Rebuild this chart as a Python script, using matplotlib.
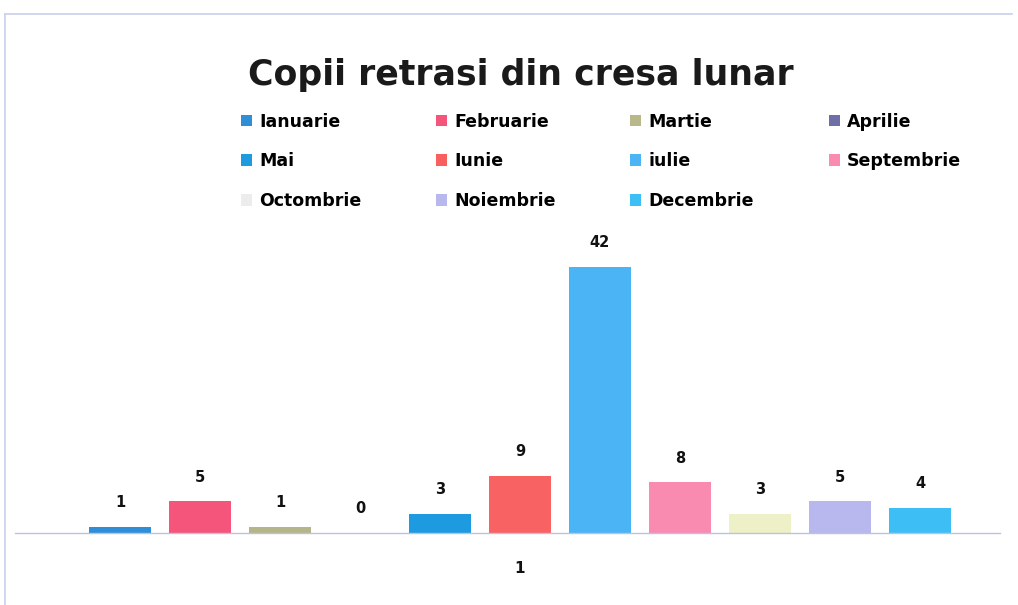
import matplotlib
matplotlib.use("Agg")
import matplotlib.pyplot as plt
from matplotlib.patches import Patch

title = "Copii retrasi din cresa lunar"
months = ["Ianuarie", "Februarie", "Martie", "Aprilie", "Mai", "Iunie",
          "iulie", "Septembrie", "Octombrie", "Noiembrie", "Decembrie"]
values = [1, 5, 1, 0, 3, 9, 42, 8, 3, 5, 4]
category = ["1"]
bar_colors = ["#2E8FD8", "#F5557A", "#B5B58A", "#6F6FA8", "#1E9BE0", "#F86262",
              "#4BB4F5", "#F98BB0", "#EEF0C8", "#B8B8EE", "#3DBEF5"]
legend_colors = ["#2E8FD8", "#F5557A", "#B8B88A", "#6F6FA8", "#1E9BE0", "#F86060",
                 "#4BB4F5", "#F98BB0", "#ECECEC", "#B8B8EE", "#3DBEF5"]

W, H = 1018, 605
fig = plt.figure(figsize=(W / 100, H / 100), dpi=100)
fig.patch.set_facecolor("white")

# axes in pixel coordinates
left, right = 15, 1000
base_y = 533  # from top
ymax = 50
px_per_unit = (533 - 267) / 42.0
top_y = base_y - ymax * px_per_unit
ax = fig.add_axes([left / W, (H - base_y) / H, (right - left) / W, (base_y - top_y) / H])

n = len(values)
spacing = 80.0
center_px = 520
positions = [i - (n - 1) / 2 for i in range(n)]
ax.set_xlim((left - center_px) / spacing, (right - center_px) / spacing)
ax.set_ylim(0, ymax)

bars = ax.bar(positions, values, width=0.78, color=bar_colors, edgecolor="none")
for x, v in zip(positions, values):
    ax.annotate(str(v), (x, v), xytext=(0, 12), textcoords="offset points",
                ha="center", va="bottom", fontsize=10.5, fontweight="bold", color="#111111")

for s in ["top", "right", "left"]:
    ax.spines[s].set_visible(False)
ax.spines["bottom"].set_color("#B8C4E0")
ax.spines["bottom"].set_linewidth(1.0)
ax.set_yticks([])
ax.set_xticks([0])
ax.set_xticklabels(category, fontsize=11, fontweight="bold", color="#111111")
ax.tick_params(axis="x", length=0, pad=20)

# title
fig.text(521 / W, 1 - 75 / H, title, ha="center", va="center",
         fontsize=25, fontweight="bold", color="#1a1a1a")

# legend (row-major in reference -> reorder for column-major fill)
handles = [Patch(facecolor=c, edgecolor="none") for c in legend_colors]
ncol, nrow = 4, 3
order = []
for c in range(ncol):
    for r in range(nrow):
        idx = r * ncol + c
        if idx < n:
            order.append(idx)
leg = fig.legend([handles[i] for i in order], [months[i] for i in order],
                 ncol=ncol, loc="upper left", bbox_to_anchor=(232 / W, 1 - 104 / H),
                 frameon=False, handlelength=0.65, handleheight=0.65, handletextpad=0.4,
                 columnspacing=4.3, labelspacing=1.25, borderpad=0,
                 prop={"size": 12.5, "weight": "bold"})

# outer frame (light blue, left and top)
fig.add_artist(plt.Line2D([5 / W, 1012 / W], [1 - 14 / H, 1 - 14 / H],
                          color="#C8D0EC", lw=1.2, transform=fig.transFigure))
fig.add_artist(plt.Line2D([5 / W, 5 / W], [1 - 14 / H, 0], color="#C8D0EC",
                          lw=1.2, transform=fig.transFigure))

fig.savefig("out.png", dpi=100, facecolor="white")
